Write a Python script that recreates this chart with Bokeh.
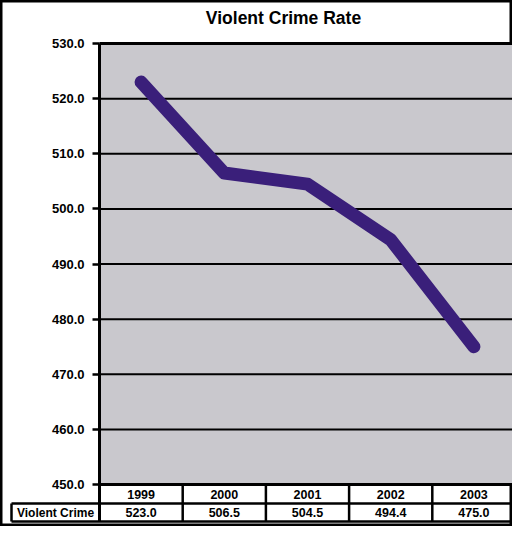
from bokeh.plotting import figure
from bokeh.models import Range1d, LinearAxis, FixedTicker, PrintfTickFormatter, Label
from bokeh.core.properties import value
from bokeh.embed import file_html
from bokeh.resources import INLINE

# ---- data ----
years = ["1999", "2000", "2001", "2002", "2003"]
violent_crime = [523.0, 506.5, 504.5, 494.4, 475.0]
series_name = "Violent Crime"
y_ticks = [450, 460, 470, 480, 490, 500, 510, 520, 530]
title_text = "Violent Crime Rate"

# ---- layout (pixels) ----
W, H = 512, 526
axis_px = 99          # x pixel of the value axis
col_px = 83.2         # width of one year column
label_left_px = 11    # left edge of the row-label cell
plot_top_px, plot_bot_px = 43, 484
row1_px, row2_px = 19, 37   # table row bottoms below the plot

ymin, ymax = y_ticks[0], y_ticks[-1]
ppu = (plot_bot_px - plot_top_px) / (ymax - ymin)
x_left = -axis_px / col_px
x_right = (W - axis_px) / col_px
y_top = ymax + plot_top_px / ppu
y_bot = ymin - (H - plot_bot_px) / ppu
row1_bot = ymin - row1_px / ppu
row2_bot = ymin - row2_px / ppu
label_left = -(axis_px - label_left_px) / col_px
n = len(years)
xc = [i + 0.5 for i in range(n)]

FONT = value("Liberation Sans")

p = figure(width=W, height=H, output_backend="svg", toolbar_location=None,
           x_range=Range1d(x_left, x_right), y_range=Range1d(y_bot, y_top),
           x_axis_location=None, y_axis_location=None,
           min_border=0, min_border_left=0, min_border_right=0,
           min_border_top=0, min_border_bottom=0)
p.grid.visible = False
p.outline_line_color = "black"
p.outline_line_width = 4
p.background_fill_color = "white"
p.border_fill_color = "white"

# plot area
p.quad(left=0, right=x_right, bottom=ymin, top=ymax, fill_color="#c9c8cd", line_color=None)
# gridlines
inner = y_ticks[1:-1]
p.segment(x0=[0] * len(inner), x1=[x_right] * len(inner), y0=inner, y1=inner,
          line_color="black", line_width=2)
p.segment(x0=[0, 0], x1=[x_right, x_right], y0=[ymin, ymax], y1=[ymin, ymax],
          line_color="black", line_width=3)

# table lines
p.segment(x0=[label_left, label_left], x1=[x_right, x_right], y0=[row1_bot, row2_bot], y1=[row1_bot, row2_bot],
          line_color="black", line_width=2.5)
vx = [float(i) for i in range(1, n + 1)]
p.segment(x0=vx, x1=vx, y0=[ymin] * n, y1=[row2_bot] * n, line_color="black", line_width=2.5)
p.segment(x0=[label_left], x1=[label_left], y0=[row1_bot], y1=[row2_bot], line_color="black", line_width=2.5)

# table text
p.text(x=xc, y=[(ymin + row1_bot) / 2] * n, text=years, text_font=FONT, text_font_style="bold",
       text_font_size="12.5px", text_align="center", text_baseline="middle", text_color="black")
p.text(x=xc, y=[(row1_bot + row2_bot) / 2] * n, text=["%.1f" % v for v in violent_crime],
       text_font=FONT, text_font_style="bold", text_font_size="12.5px",
       text_align="center", text_baseline="middle", text_color="black")
p.text(x=[label_left / 2], y=[(row1_bot + row2_bot) / 2], text=[series_name],
       text_font=FONT, text_font_style="bold", text_font_size="12px",
       text_align="center", text_baseline="middle", text_color="black")

# data line
p.line(x=xc, y=violent_crime, line_color="#3a1f7a", line_width=13,
       line_cap="round", line_join="round")

# value axis
ax = LinearAxis(fixed_location=0, ticker=FixedTicker(ticks=y_ticks),
                formatter=PrintfTickFormatter(format="%.1f"),
                bounds=(row2_bot, ymax))
ax.axis_line_width = 3
ax.axis_line_color = "black"
ax.major_tick_in = 0
ax.major_tick_out = 7
ax.major_tick_line_width = 2.5
ax.minor_tick_line_color = None
ax.major_label_standoff = 8
ax.major_label_text_font = "Liberation Sans"
ax.major_label_text_font_style = "bold"
ax.major_label_text_font_size = "13px"
ax.major_label_text_color = "black"
p.add_layout(ax, "left")

# title
title_x = (283 - axis_px) / col_px
title_y = y_top - 17 / ppu
p.add_layout(Label(x=title_x, y=title_y, text=title_text, text_align="center",
                   text_baseline="middle", text_font="Liberation Sans",
                   text_font_style="bold", text_font_size="17.5px", text_color="black"))

open("out.html", "w").write(file_html(p, INLINE))
